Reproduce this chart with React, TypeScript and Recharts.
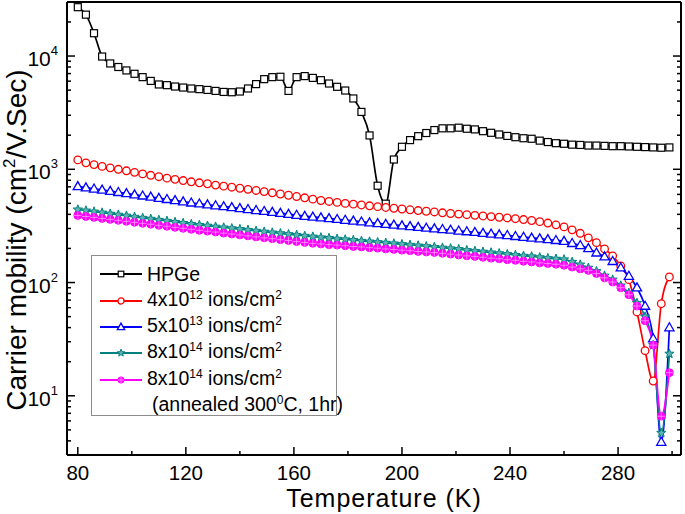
import React from "react";
import { LineChart, Line, XAxis, YAxis, Legend, Label } from "recharts";

const FONT = "'Liberation Sans', Arial, Helvetica, sans-serif";

// temperature (K)
const TEMPS = [
  80, 83, 86, 89, 92, 95, 98, 101, 104, 107, 110, 113, 116, 119, 122, 125, 128,
  131, 134, 137, 140, 143, 146, 149, 152, 155, 158, 161, 164, 167, 170, 173,
  176, 179, 182, 185, 188, 191, 194, 197, 200, 203, 206, 209, 212, 215, 218,
  221, 224, 227, 230, 233, 236, 239, 242, 245, 248, 251, 254, 257, 260, 263,
  266, 269, 272, 275, 278, 281, 284, 287, 290, 293, 296, 299,
];

// carrier mobility (cm2/V.Sec)
const HPGE = [
  27000, 23200, 15900, 9900, 8600, 8000, 7460, 6970, 6510, 6030, 5610, 5530,
  5380, 5270, 5170, 5100, 5020, 4920, 4820, 4790, 4860, 5170, 5650, 6250, 6510,
  6560, 4920, 6510, 6650, 6410, 6120, 5720, 5350, 4960, 4220, 3210, 1990, 716,
  497, 1220, 1580, 1810, 1960, 2090, 2220, 2300, 2300, 2330, 2280, 2250, 2170,
  2100, 2030, 1970, 1920, 1880, 1860, 1790, 1740, 1700, 1680, 1650, 1640, 1620,
  1620, 1610, 1600, 1600, 1590, 1580, 1570, 1560, 1550, 1560,
];
const DOSE_4E12 = [
  1210, 1140, 1100, 1060, 1030, 1000, 970, 940, 910, 885, 860, 835, 815, 795,
  775, 760, 745, 725, 710, 695, 680, 665, 650, 635, 620, 605, 590, 575, 560,
  545, 530, 520, 510, 500, 492, 484, 476, 468, 460, 453, 446, 439, 432, 426,
  420, 413, 407, 402, 397, 392, 387, 382, 377, 372, 366, 360, 353, 345, 335,
  323, 310, 292, 272, 248, 225, 198, 172, 140, 106, 55, 25, 13.5, 65, 112,
];
const DOSE_5E13 = [
  705, 688, 672, 657, 641, 626, 612, 597, 583, 570, 556, 543, 531, 518, 506,
  496, 487, 478, 469, 460, 451, 443, 434, 426, 418, 410, 402, 394, 386, 380,
  374, 368, 362, 356, 350, 344, 338, 333, 328, 323, 318, 313, 308, 303, 299,
  295, 291, 286, 282, 278, 273, 269, 265, 261, 256, 252, 248, 244, 240, 236,
  232, 222, 213, 200, 183, 169, 154, 135, 114, 90, 62, 32, 3.9, 40,
];
const DOSE_8E14 = [
  441, 432, 423, 414, 405, 397, 389, 380, 372, 365, 357, 350, 342, 335, 328,
  322, 317, 311, 306, 301, 296, 291, 286, 281, 276, 272, 267, 263, 258, 254,
  250, 247, 243, 240, 237, 233, 230, 227, 224, 221, 218, 215, 212, 209, 206,
  203, 200, 197, 193, 190, 187, 184, 181, 178, 175, 172, 170, 167, 164, 162,
  160, 152, 144, 135, 126, 115, 106, 94, 81, 66, 50, 28, 4.7, 23.5,
];
const DOSE_8E14_ANNEALED = [
  391, 383, 376, 368, 361, 354, 347, 340, 333, 327, 320, 314, 307, 301, 295,
  289, 284, 279, 273, 268, 263, 258, 253, 248, 244, 239, 235, 230, 226, 222,
  219, 216, 214, 211, 208, 206, 203, 201, 198, 196, 193, 191, 188, 186, 184,
  181, 178, 175, 172, 170, 167, 164, 162, 159, 157, 154, 152, 149, 147, 145,
  142, 137, 132, 128, 120, 110, 101, 90, 78, 62, 46, 28, 6.6, 16,
];

const X_TICKS = [80, 100, 120, 140, 160, 180, 200, 220, 240, 260, 280, 300];
const X_MAJOR = [80, 120, 160, 200, 240, 280];
const Y_TICKS = [
  3, 4, 5, 6, 7, 8, 9, 10, 20, 30, 40, 50, 60, 70, 80, 90, 100, 200, 300, 400,
  500, 600, 700, 800, 900, 1000, 2000, 3000, 4000, 5000, 6000, 7000, 8000, 9000,
  10000, 20000, 30000,
];
const Y_MAJOR = [10, 100, 1000, 10000];

const rows = TEMPS.map((t, i) => ({
  t,
  hpge: HPGE[i],
  d4e12: DOSE_4E12[i],
  d5e13: DOSE_5E13[i],
  d8e14: DOSE_8E14[i],
  d8e14a: DOSE_8E14_ANNEALED[i],
}));

const Sup = ({ children }: any) => (
  <span style={{ fontSize: 12, position: "relative", top: -7 }}>{children}</span>
);

const SERIES = [
  { key: "hpge", name: "HPGe", color: "#000000", shape: "square", label: <>HPGe</> },
  {
    key: "d4e12",
    name: "4x10^12 ions/cm^2",
    color: "#ff0000",
    shape: "circle",
    label: <>4x10<Sup>12</Sup> ions/cm<Sup>2</Sup></>,
  },
  {
    key: "d5e13",
    name: "5x10^13 ions/cm^2",
    color: "#0000ff",
    shape: "triangle",
    label: <>5x10<Sup>13</Sup> ions/cm<Sup>2</Sup></>,
  },
  {
    key: "d8e14",
    name: "8x10^14 ions/cm^2",
    color: "#008080",
    shape: "star",
    label: <>8x10<Sup>14</Sup> ions/cm<Sup>2</Sup></>,
  },
  {
    key: "d8e14a",
    name: "8x10^14 ions/cm^2 (annealed)",
    color: "#ff00ff",
    shape: "dot",
    label: <>8x10<Sup>14</Sup> ions/cm<Sup>2</Sup></>,
  },
];

function Marker({ shape, color, cx, cy, s = 1 }: any) {
  if (cx == null || cy == null) return null;
  if (shape === "square") {
    const h = 3.5 * s;
    return <rect x={cx - h} y={cy - h} width={2 * h} height={2 * h} fill="#fff" stroke={color} strokeWidth={1.2} />;
  }
  if (shape === "circle") {
    return <circle cx={cx} cy={cy} r={3.8 * s} fill="#fff" stroke={color} strokeWidth={1.3} />;
  }
  if (shape === "triangle") {
    const pts = `${cx},${cy - 4.8 * s} ${cx - 4.6 * s},${cy + 3.2 * s} ${cx + 4.6 * s},${cy + 3.2 * s}`;
    return <polygon points={pts} fill="#fff" stroke={color} strokeWidth={1.3} />;
  }
  if (shape === "star") {
    const pts: string[] = [];
    for (let k = 0; k < 10; k++) {
      const r = (k % 2 === 0 ? 4.8 : 2.0) * s;
      const a = -Math.PI / 2 + (k * Math.PI) / 5;
      pts.push(`${cx + r * Math.cos(a)},${cy + r * Math.sin(a)}`);
    }
    return <polygon points={pts.join(" ")} fill="#5fb3b3" stroke={color} strokeWidth={1} />;
  }
  // filled dot with light cross
  const r = 3.9 * s;
  return (
    <g>
      <circle cx={cx} cy={cy} r={r} fill={color} stroke={color} strokeWidth={1} />
      <line x1={cx - r} x2={cx + r} y1={cy} y2={cy} stroke="#ff9cff" strokeWidth={0.8} />
      <line x1={cx} x2={cx} y1={cy - r} y2={cy + r} stroke="#ff9cff" strokeWidth={0.8} />
    </g>
  );
}

function BottomTick({ x, y, payload }: any) {
  const major = X_MAJOR.includes(payload.value);
  return (
    <g>
      <line x1={x} x2={x} y1={y} y2={y - (major ? 8 : 4)} stroke="#000" strokeWidth={1.5} />
      {major && (
        <text x={x} y={y + 24.5} textAnchor="middle" fontSize={20.5} fontFamily={FONT} fill="#000">
          {payload.value}
        </text>
      )}
    </g>
  );
}

function TopTick({ x, y, payload }: any) {
  const major = X_MAJOR.includes(payload.value);
  return <line x1={x} x2={x} y1={y} y2={y + (major ? 8 : 4)} stroke="#000" strokeWidth={1.5} />;
}

function LeftTick({ x, y, payload }: any) {
  const major = Y_MAJOR.includes(payload.value);
  return (
    <g>
      <line x1={x} x2={x + (major ? 8 : 4)} y1={y} y2={y} stroke="#000" strokeWidth={1.5} />
      {major && (
        <text x={x - 9} y={y + 10} textAnchor="end" fontSize={21} fontFamily={FONT} fill="#000">
          10
          <tspan dy={-11} fontSize={13}>
            {Math.round(Math.log10(payload.value))}
          </tspan>
        </text>
      )}
    </g>
  );
}

function RightTick({ x, y, payload }: any) {
  const major = Y_MAJOR.includes(payload.value);
  return <line x1={x} x2={x - (major ? 8 : 4)} y1={y} y2={y} stroke="#000" strokeWidth={1.5} />;
}

const renderLegend = () => (
  <div
    style={{
      boxSizing: "border-box",
      width: 246,
      height: 161,
      border: "1px solid #8c8c8c",
      background: "#fff",
      padding: "5px 0 0 8px",
      fontFamily: FONT,
      fontSize: 19.5,
      color: "#000",
      lineHeight: "19px",
    }}
  >
    {SERIES.map((s) => (
      <div key={s.key} style={{ display: "flex", alignItems: "center", height: 26.4 }}>
        <svg width={42} height={14} style={{ flex: "none" }}>
          <line x1={0} x2={42} y1={7} y2={7} stroke={s.color} strokeWidth={1.8} />
          <Marker shape={s.shape} color={s.color} cx={21} cy={7} s={0.8} />
        </svg>
        <span style={{ marginLeft: 5, whiteSpace: "nowrap" }}>{s.label}</span>
      </div>
    ))}
    <div style={{ height: 26.4, display: "flex", alignItems: "center", paddingLeft: 52, whiteSpace: "nowrap" }}>
      <span>
        (annealed 300<Sup>0</Sup>C, 1hr)
      </span>
    </div>
  </div>
);

export default function App() {
  const axisLine = { stroke: "#000", strokeWidth: 2 };
  return (
    <div style={{ position: "absolute", left: 0, top: 0, width: 685, height: 514, background: "#fff" }}>
      <LineChart width={685} height={514} data={rows} margin={{ top: 0, right: 0, bottom: 0, left: 0 }}>
        <XAxis
          dataKey="t"
          type="number"
          domain={[76, 303.3]}
          allowDataOverflow
          ticks={X_TICKS}
          interval={0}
          height={59}
          tickSize={0}
          tickMargin={0}
          tickLine={false}
          axisLine={axisLine}
          tick={<BottomTick />}
        >
          <Label
            content={() => (
              <text
                x={384}
                y={506.5}
                textAnchor="middle"
                fontSize={25}
                letterSpacing={1}
                fontFamily={FONT}
                fill="#000"
              >
                Temperature (K)
              </text>
            )}
          />
        </XAxis>
        <XAxis
          xAxisId="top"
          orientation="top"
          type="number"
          domain={[76, 303.3]}
          allowDataOverflow
          ticks={X_TICKS}
          interval={0}
          height={2}
          tickSize={0}
          tickMargin={0}
          tickLine={false}
          axisLine={axisLine}
          tick={<TopTick />}
        />
        <YAxis
          scale="log"
          type="number"
          domain={[3, 30000]}
          allowDataOverflow
          ticks={Y_TICKS}
          interval={0}
          width={67}
          tickSize={0}
          tickMargin={0}
          tickLine={false}
          axisLine={axisLine}
          tick={<LeftTick />}
        >
          <Label
            content={() => (
              <text transform="translate(26,240) rotate(-90)" textAnchor="middle" fontSize={28} fontFamily={FONT} fill="#000">
                Carrier mobility (cm
                <tspan dy={-11} fontSize={17}>
                  2
                </tspan>
                <tspan dy={11}>/V.Sec)</tspan>
              </text>
            )}
          />
        </YAxis>
        <YAxis
          yAxisId="right"
          orientation="right"
          scale="log"
          type="number"
          domain={[3, 30000]}
          allowDataOverflow
          ticks={Y_TICKS}
          interval={0}
          width={4}
          tickSize={0}
          tickMargin={0}
          tickLine={false}
          axisLine={axisLine}
          tick={<RightTick />}
        />
        <Legend
          layout="vertical"
          align="center"
          verticalAlign="middle"
          content={renderLegend}
          wrapperStyle={{ left: 91, top: 255, width: 246, height: 161 }}
        />
        {SERIES.map((s) => (
          <Line
            key={s.key}
            dataKey={s.key}
            name={s.name}
            type="monotone"
            stroke={s.color}
            strokeWidth={1.7}
            isAnimationActive={false}
            activeDot={false}
            dot={(p: any) => (
              <Marker key={`${s.key}-${p.index}`} shape={s.shape} color={s.color} cx={p.cx} cy={p.cy} />
            )}
          />
        ))}
      </LineChart>
    </div>
  );
}
